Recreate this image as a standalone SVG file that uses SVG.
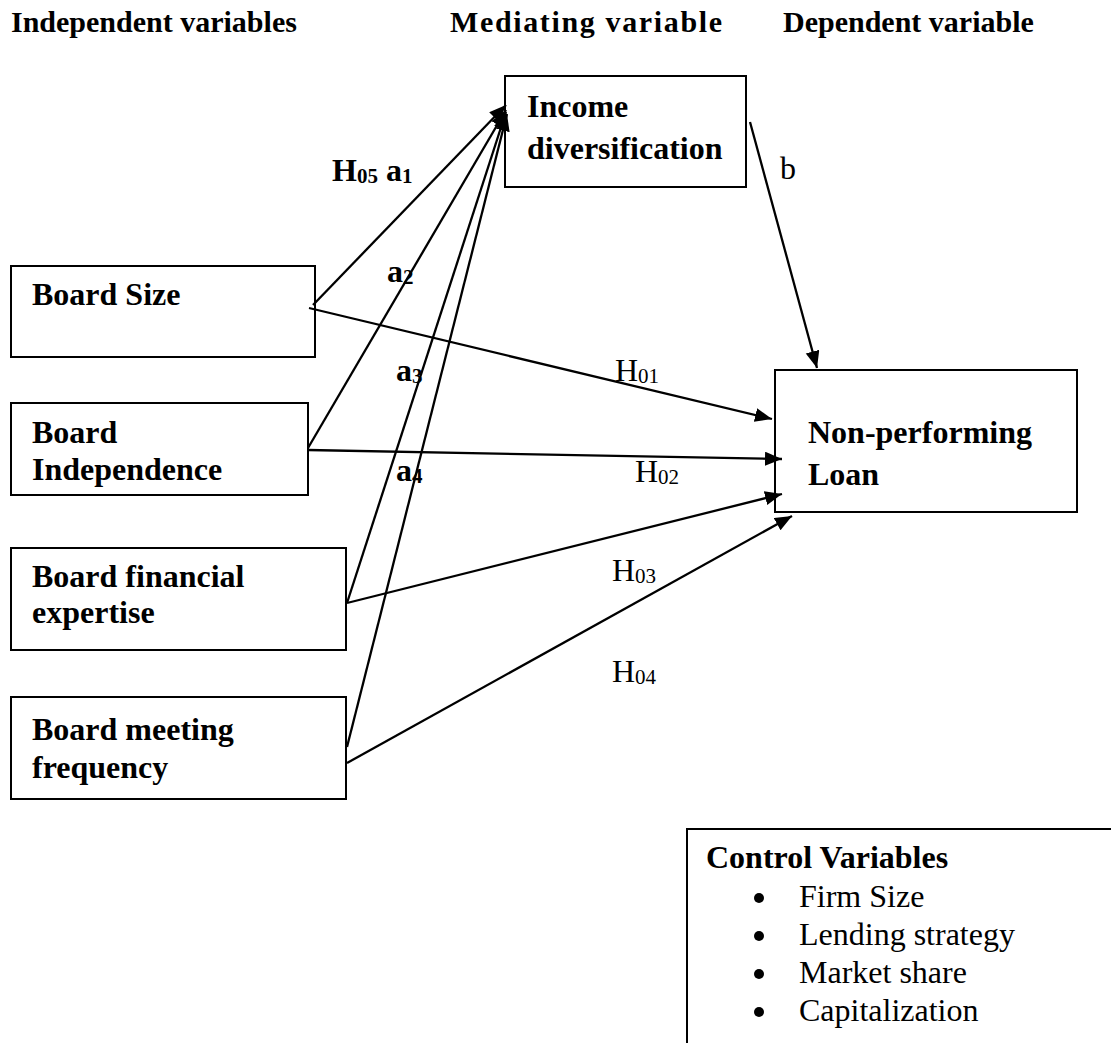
<svg xmlns="http://www.w3.org/2000/svg" width="1111" height="1043" viewBox="0 0 1111 1043">
<defs>
<marker id="arr" markerUnits="userSpaceOnUse" markerWidth="20" markerHeight="16" refX="17" refY="7" orient="auto">
<path d="M0,0 L17,7 L0,14 z" fill="#000"/>
</marker>
<style>
.box{fill:#fff;stroke:#000;stroke-width:2}
.t{font-family:"Liberation Serif","Times New Roman",serif;fill:#000}
.b{font-weight:bold;font-size:32px}
.h{font-weight:bold;font-size:30px}
.r{font-size:32px}
.sub{font-size:21px}
.dot{fill:#000}
.c{stroke:#000;stroke-width:2.3;fill:none;marker-end:url(#arr)}
</style>
</defs>
<rect width="1111" height="1043" fill="#fff"/>
<g id="headers">
<text class="t h" x="11" y="32">Independent variables</text>
<text class="t h" x="450" y="32" textLength="272" lengthAdjust="spacing">Mediating variable</text>
<text class="t h" x="783" y="32">Dependent variable</text>
</g>
<g id="node-income">
<rect class="box" x="505" y="76" width="241" height="111"/>
<text class="t b" x="527" y="117">Income</text>
<text class="t b" x="527" y="159">diversification</text>
</g>
<g id="node-npl">
<rect class="box" x="775" y="370" width="302" height="142"/>
<text class="t b" x="808" y="443">Non-performing</text>
<text class="t b" x="808" y="485">Loan</text>
</g>
<g id="node-size">
<rect class="box" x="11" y="266" width="304" height="91"/>
<text class="t b" x="32" y="305">Board Size</text>
</g>
<g id="node-indep">
<rect class="box" x="11" y="403" width="297" height="92"/>
<text class="t b" x="32" y="443">Board</text>
<text class="t b" x="32" y="480">Independence</text>
</g>
<g id="node-fin">
<rect class="box" x="11" y="548" width="335" height="102"/>
<text class="t b" x="32" y="587">Board financial</text>
<text class="t b" x="32" y="623">expertise</text>
</g>
<g id="node-meet">
<rect class="box" x="11" y="697" width="335" height="102"/>
<text class="t b" x="32" y="740">Board meeting</text>
<text class="t b" x="32" y="778">frequency</text>
</g>
<g id="connectors">
<line class="c" x1="313" y1="305" x2="506" y2="105"/>
<line class="c" x1="308" y1="448" x2="506" y2="110"/>
<line class="c" x1="347" y1="603" x2="506" y2="112"/>
<line class="c" x1="347" y1="747" x2="507" y2="114"/>
<line class="c" x1="309" y1="308" x2="772" y2="419"/>
<line class="c" x1="308" y1="450" x2="782" y2="459"/>
<line class="c" x1="347" y1="603" x2="782" y2="494"/>
<line class="c" x1="347" y1="763" x2="792" y2="516"/>
<line class="c" x1="750" y1="122" x2="817" y2="368"/>
</g>
<g id="labels">
<text class="t b" x="332" y="181">H<tspan class="sub" dy="2">05</tspan><tspan dy="-2"> a</tspan><tspan class="sub" dy="2">1</tspan></text>
<text class="t b" x="387" y="282">a<tspan class="sub" dy="2">2</tspan></text>
<text class="t b" x="396" y="381">a<tspan class="sub" dy="2">3</tspan></text>
<text class="t b" x="396" y="481">a<tspan class="sub" dy="2">4</tspan></text>
<text class="t r" x="615" y="381">H<tspan class="sub" dy="2">01</tspan></text>
<text class="t r" x="635" y="482">H<tspan class="sub" dy="2">02</tspan></text>
<text class="t r" x="612" y="581">H<tspan class="sub" dy="2">03</tspan></text>
<text class="t r" x="612" y="682">H<tspan class="sub" dy="2">04</tspan></text>
<text class="t r" x="780" y="179">b</text>
</g>
<g id="node-control">
<rect class="box" x="687" y="829" width="440" height="230"/>
<text class="t b" x="706" y="868">Control Variables</text>
<circle class="dot" cx="759" cy="898" r="5"/>
<text class="t r" x="799" y="907">Firm Size</text>
<circle class="dot" cx="759" cy="936" r="5"/>
<text class="t r" x="799" y="945">Lending strategy</text>
<circle class="dot" cx="759" cy="974" r="5"/>
<text class="t r" x="799" y="983">Market share</text>
<circle class="dot" cx="759" cy="1012" r="5"/>
<text class="t r" x="799" y="1021">Capitalization</text>
</g>
</svg>
